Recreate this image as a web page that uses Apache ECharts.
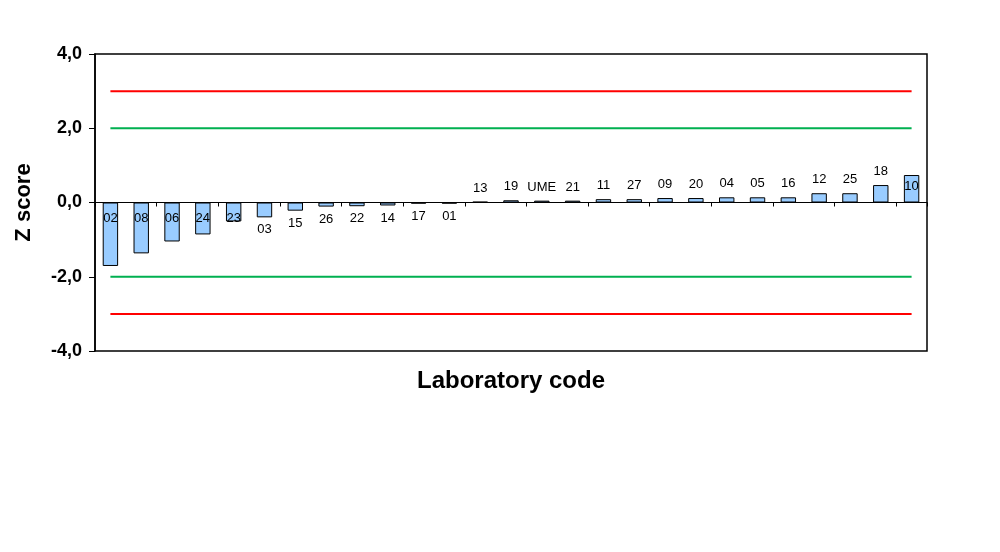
<!DOCTYPE html>
<html>
<head>
<meta charset="utf-8">
<script src="https://cdn.jsdelivr.net/npm/echarts@6/dist/echarts.min.js"></script>
<style>html,body{margin:0;padding:0;background:#fff;}#c{width:1000px;height:552px;}</style>
</head>
<body>
<div id="c"></div>
<script>
const categories = ['02','08','06','24','23','03','15','26','22','14','17','01','13','19','UME','21','11','27','09','20','04','05','16','12','25','18','10'];
const zScores = [-1.71,-1.37,-1.05,-0.86,-0.51,-0.40,-0.22,-0.11,-0.10,-0.08,-0.03,-0.03,0.02,0.06,0.05,0.05,0.09,0.09,0.12,0.12,0.14,0.14,0.14,0.25,0.25,0.47,0.74];
const actionLimit = 3;
const warningLimit = 2;
const yTicks = [-4, -2, 0, 2, 4];

const FONT = 'Liberation Sans, Arial, sans-serif';
const NARROW = 'Liberation Sans Narrow, Arial Narrow, Liberation Sans, sans-serif';

function labelPos(v) {
  if (v <= -0.5) return { position: 'insideTop', distance: 9 };
  if (v < 0) return { position: 'bottom', distance: 6 };
  if (v >= 0.6) return { position: 'insideTop', distance: 5 };
  return { position: 'top', distance: 7 };
}

const barData = zScores.map((v, i) => ({
  value: v,
  label: Object.assign({ show: true, formatter: categories[i] }, labelPos(v))
}));

function constLine(val, color) {
  return {
    type: 'line',
    data: categories.map(() => val),
    symbol: 'none',
    lineStyle: { color: color, width: 2 },
    silent: true,
    z: 3
  };
}

const chart = echarts.init(document.getElementById('c'), null, { renderer: 'canvas' });
chart.setOption({
  animation: false,
  backgroundColor: '#fff',
  textStyle: { fontFamily: FONT },
  grid: {
    left: 95, right: 73, top: 54, bottom: 201,
    show: true, borderColor: '#000', borderWidth: 1.5, backgroundColor: 'transparent'
  },
  xAxis: {
    type: 'category',
    data: categories,
    boundaryGap: true,
    axisLine: { onZero: true, lineStyle: { color: '#000', width: 1 } },
    axisTick: { show: true, alignWithLabel: false, length: 4, lineStyle: { color: '#000' } },
    axisLabel: { show: false },
    splitLine: { show: false },
    name: 'Laboratory code',
    nameLocation: 'middle',
    nameGap: 18,
    nameTextStyle: { fontFamily: FONT, fontSize: 24, fontWeight: 'bold', color: '#000' }
  },
  yAxis: {
    type: 'value',
    min: yTicks[0], max: yTicks[yTicks.length - 1], interval: 2,
    axisLine: { show: true, lineStyle: { color: '#000', width: 1.5 } },
    axisTick: { show: true, length: 6, lineStyle: { color: '#000' } },
    splitLine: { show: false },
    axisLabel: {
      formatter: v => v.toFixed(1).replace('.', ','),
      fontFamily: FONT, fontSize: 18, fontWeight: 'bold', color: '#000', margin: 13
    },
    name: 'Z score',
    nameLocation: 'middle',
    nameGap: 60,
    nameRotate: 90,
    nameTextStyle: { fontFamily: FONT, fontSize: 22, fontWeight: 'bold', color: '#000' }
  },
  series: [
    {
      type: 'bar',
      data: barData,
      barWidth: '50%',
      itemStyle: { color: '#99CCFF', borderColor: '#000', borderWidth: 1 },
      label: { fontFamily: NARROW, fontSize: 13, color: '#000' },
      z: 2
    },
    constLine(actionLimit, '#FF0000'),
    constLine(warningLimit, '#00B050'),
    constLine(-warningLimit, '#00B050'),
    constLine(-actionLimit, '#FF0000')
  ]
});
</script>
</body>
</html>
